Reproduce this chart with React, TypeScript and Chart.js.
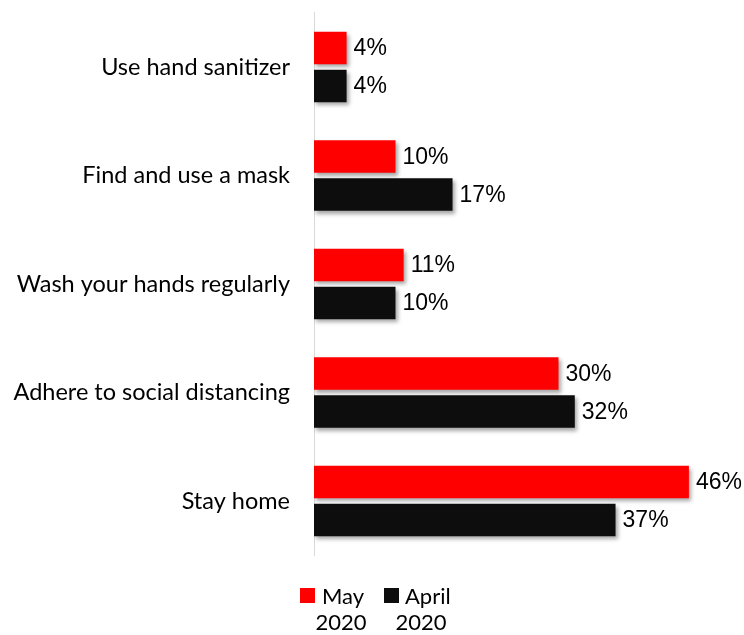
import React, { useEffect, useRef } from "react";
import { Chart, registerables } from "chart.js";

Chart.register(...registerables);

const categories = [
  "Use hand sanitizer",
  "Find and use a mask",
  "Wash your hands regularly",
  "Adhere to social distancing",
  "Stay home",
];
const may2020 = [4, 10, 11, 30, 46];
const april2020 = [4, 17, 10, 32, 37];
const seriesNames = [["May", "2020"], ["April", "2020"]];
const seriesColors = ["#ff0000", "#0d0d0d"];

const LABEL_FONT = "Lato, 'Noto Sans', sans-serif";
const VALUE_FONT = "'Liberation Sans', Arial, sans-serif";

const shadowPlugin = {
  id: "barShadow",
  beforeDatasetsDraw(chart: any) {
    const ctx = chart.ctx;
    ctx.save();
    ctx.shadowColor = "rgba(0,0,0,0.35)";
    ctx.shadowBlur = 4;
    ctx.shadowOffsetX = 2;
    ctx.shadowOffsetY = 3;
  },
  afterDatasetsDraw(chart: any) {
    chart.ctx.restore();
  },
};

const valueLabelPlugin = {
  id: "valueLabels",
  afterDraw(chart: any) {
    const ctx = chart.ctx;
    ctx.save();
    ctx.font = `23px ${VALUE_FONT}`;
    ctx.fillStyle = "#000";
    ctx.textAlign = "left";
    ctx.textBaseline = "middle";
    chart.data.datasets.forEach((ds: any, di: number) => {
      const meta = chart.getDatasetMeta(di);
      meta.data.forEach((bar: any, i: number) => {
        ctx.fillText(`${ds.data[i]}%`, bar.x + 7, bar.y + 1);
      });
    });
    ctx.restore();
  },
};

const legendPlugin = {
  id: "customLegend",
  afterDraw(chart: any) {
    const ctx = chart.ctx;
    ctx.save();
    ctx.font = `22px ${LABEL_FONT}`;
    ctx.textBaseline = "middle";
    const items = [
      { sx: 300, tx: 322, cx: 341 },
      { sx: 384, tx: 405, cx: 421 },
    ];
    items.forEach((it, i) => {
      ctx.fillStyle = seriesColors[i];
      ctx.fillRect(it.sx, 588, 15, 15);
      ctx.fillStyle = "#000";
      ctx.textAlign = "left";
      ctx.fillText(seriesNames[i][0], it.tx, 597);
      ctx.textAlign = "center";
      ctx.fillText(seriesNames[i][1], it.cx, 623);
    });
    ctx.restore();
  },
};

export default function App() {
  const ref = useRef<HTMLCanvasElement>(null);
  useEffect(() => {
    const chart = new Chart(ref.current!, {
      type: "bar",
      data: {
        labels: categories,
        datasets: [
          {
            label: "May 2020",
            data: may2020,
            backgroundColor: seriesColors[0],
            categoryPercentage: 0.7,
            barPercentage: 0.85,
          },
          {
            label: "April 2020",
            data: april2020,
            backgroundColor: seriesColors[1],
            categoryPercentage: 0.7,
            barPercentage: 0.85,
          },
        ],
      },
      options: {
        indexAxis: "y",
        animation: false,
        responsive: false,
        layout: { padding: { top: 12.75, bottom: 79.75, right: 22.5, left: 0 } },
        plugins: { legend: { display: false }, tooltip: { enabled: false } },
        scales: {
          x: { display: false, min: 0, max: 50 },
          y: {
            grid: { display: false, drawTicks: false },
            border: { display: true, color: "#d9d9d9", width: 1 },
            ticks: {
              color: "#000",
              font: { family: LABEL_FONT, size: 23.5 },
              padding: 24,
            },
            afterFit(scale: any) {
              scale.width = 314;
              scale.paddingTop = 0;
              scale.paddingBottom = 0;
            },
          },
        },
      },
      plugins: [shadowPlugin, valueLabelPlugin, legendPlugin],
    });
    return () => chart.destroy();
  }, []);
  return (
    <div style={{ position: "absolute", left: 0, top: 0, width: 744, height: 635, background: "#fff" }}>
      <canvas ref={ref} width={744} height={635} />
    </div>
  );
}
